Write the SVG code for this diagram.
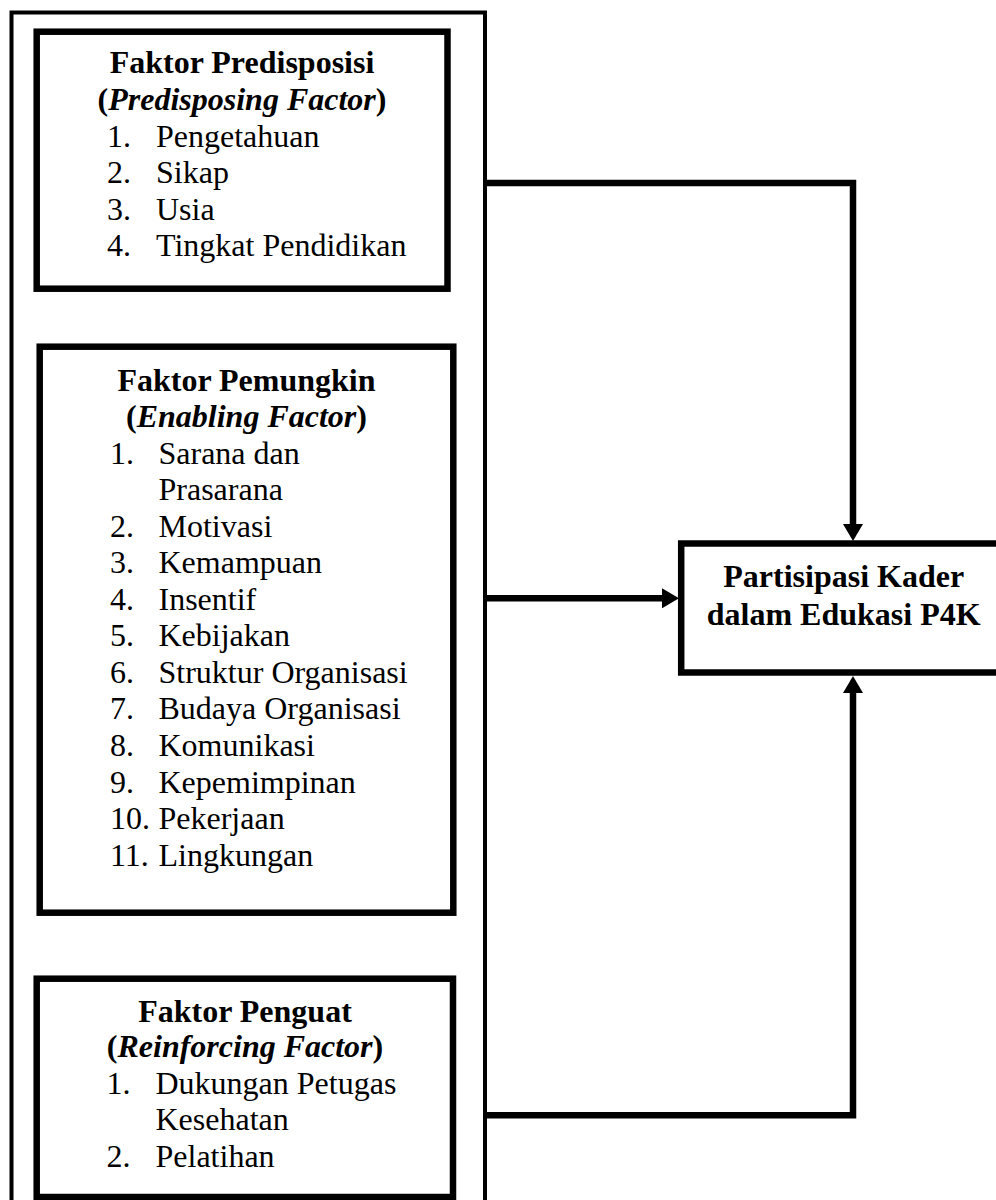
<svg xmlns="http://www.w3.org/2000/svg" width="996" height="1200" viewBox="0 0 996 1200">
<style>
  .frame{fill:none;stroke:#000;stroke-width:4}
  .box{fill:#fff;stroke:#000;stroke-width:6.5}
  .conn{fill:none;stroke:#000;stroke-width:6.5;stroke-linejoin:miter}
  text{font-family:"Liberation Serif","Times New Roman",serif;font-size:32px;fill:#000}
  .t{font-weight:bold;text-anchor:middle}
  .s{font-weight:bold;font-style:italic;text-anchor:middle}
  .c{font-weight:bold;text-anchor:middle}
</style>
<defs>
  <marker id="arr" viewBox="0 0 17 20" refX="0" refY="10" markerWidth="17" markerHeight="20" markerUnits="userSpaceOnUse" orient="auto">
    <path d="M0,0 L17,10 L0,20 z" fill="#000"/>
  </marker>
</defs>
<rect x="0" y="0" width="996" height="1200" fill="#fff"/>
<g id="frame">
  <rect class="frame" x="11.5" y="12.5" width="473.5" height="1210"/>
</g>
<g id="connectors">
  <path class="conn" d="M485,183 H853 V524" marker-end="url(#arr)"/>
  <path class="conn" d="M485,598.3 H662" marker-end="url(#arr)"/>
  <path class="conn" d="M485,1115.3 H853 V693" marker-end="url(#arr)"/>
</g>
<g id="predisposing">
  <rect class="box" x="36.7" y="31.7" width="410.8" height="257"/>
  <text class="t" x="242" y="73.3">Faktor Predisposisi</text>
  <text class="s" x="242" y="110"><tspan font-style="normal">(</tspan>Predisposing Factor<tspan font-style="normal">)</tspan></text>
  <text x="107" y="146.7">1.</text><text x="156" y="146.7">Pengetahuan</text>
  <text x="107" y="183.3">2.</text><text x="156" y="183.3">Sikap</text>
  <text x="107" y="219.8">3.</text><text x="156" y="219.8">Usia</text>
  <text x="107" y="256.3">4.</text><text x="156" y="256.3">Tingkat Pendidikan</text>
</g>
<g id="enabling">
  <rect class="box" x="39.7" y="346.7" width="413.6" height="566"/>
  <text class="t" x="246.5" y="390.6">Faktor Pemungkin</text>
  <text class="s" x="246.5" y="427"><tspan font-style="normal">(</tspan>Enabling Factor<tspan font-style="normal">)</tspan></text>
  <text x="110" y="463.5">1.</text><text x="158.5" y="463.5">Sarana dan</text>
  <text x="158.5" y="500">Prasarana</text>
  <text x="110" y="536.5">2.</text><text x="158.5" y="536.5">Motivasi</text>
  <text x="110" y="573">3.</text><text x="158.5" y="573">Kemampuan</text>
  <text x="110" y="609.6">4.</text><text x="158.5" y="609.6">Insentif</text>
  <text x="110" y="646.2">5.</text><text x="158.5" y="646.2">Kebijakan</text>
  <text x="110" y="682.8">6.</text><text x="158.5" y="682.8">Struktur Organisasi</text>
  <text x="110" y="719.4">7.</text><text x="158.5" y="719.4">Budaya Organisasi</text>
  <text x="110" y="756">8.</text><text x="158.5" y="756">Komunikasi</text>
  <text x="110" y="792.6">9.</text><text x="158.5" y="792.6">Kepemimpinan</text>
  <text x="110" y="829.3">10.</text><text x="158.5" y="829.3">Pekerjaan</text>
  <text x="110" y="866">11.</text><text x="158.5" y="866">Lingkungan</text>
</g>
<g id="reinforcing">
  <rect class="box" x="36.7" y="978.7" width="416.3" height="218.3"/>
  <text class="t" x="245" y="1021.5">Faktor Penguat</text>
  <text class="s" x="245" y="1057"><tspan font-style="normal">(</tspan>Reinforcing Factor<tspan font-style="normal">)</tspan></text>
  <text x="106.5" y="1093.5">1.</text><text x="155.5" y="1093.5">Dukungan Petugas</text>
  <text x="155.5" y="1130.2">Kesehatan</text>
  <text x="106.5" y="1166.8">2.</text><text x="155.5" y="1166.8">Pelatihan</text>
</g>
<g id="participation">
  <rect class="box" x="681.2" y="543.5" width="325" height="129"/>
  <text class="c" x="843.7" y="586.6">Partisipasi Kader</text>
  <text class="c" x="843.7" y="624.8">dalam Edukasi P4K</text>
</g>
</svg>
